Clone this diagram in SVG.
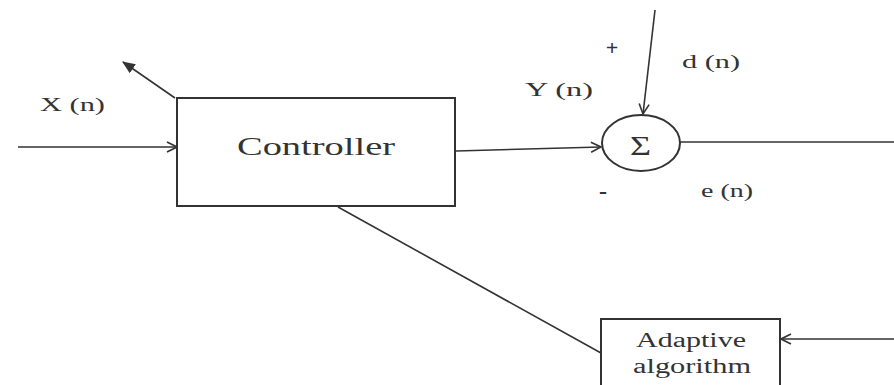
<svg xmlns="http://www.w3.org/2000/svg" width="894" height="385" viewBox="0 0 894 385">
<defs>
<style>
.box{fill:#fff;stroke:#333;stroke-width:2}
.ln{fill:none;stroke:#333;stroke-width:1.6}
.t{font-family:'Liberation Serif','DejaVu Serif','Times New Roman',serif;fill:#333}
</style>
<marker id="ah" viewBox="0 0 12 12" refX="11" refY="6" markerWidth="12" markerHeight="12" markerUnits="userSpaceOnUse" orient="auto">
<path d="M1,1 L11,6 L1,11" fill="none" stroke="#333" stroke-width="1.6"/>
</marker>
<marker id="ahf" viewBox="0 0 12 12" refX="11" refY="6" markerWidth="13" markerHeight="13" markerUnits="userSpaceOnUse" orient="auto">
<path d="M0,1 L12,6 L0,11 Z" fill="#333"/>
</marker>
</defs>
<rect width="894" height="385" fill="#fff"/>
<g id="connectors">
<line class="ln" x1="18" y1="147" x2="177" y2="147" marker-end="url(#ah)"/>
<line class="ln" x1="175" y1="98" x2="123" y2="62" marker-end="url(#ahf)"/>
<line class="ln" x1="456" y1="151" x2="601" y2="147" marker-end="url(#ah)"/>
<line class="ln" x1="655" y1="10" x2="643" y2="114" marker-end="url(#ah)"/>
<line class="ln" x1="680" y1="142" x2="894" y2="142"/>
<line class="ln" x1="338" y1="207" x2="601" y2="353"/>
<line class="ln" x1="894" y1="339" x2="781" y2="339" marker-end="url(#ah)"/>
</g>
<g id="controller">
<rect class="box" x="177" y="98" width="278" height="108"/>
<text class="t" x="237" y="155" font-size="25" textLength="158" lengthAdjust="spacingAndGlyphs">Controller</text>
</g>
<g id="sum">
<ellipse class="box" cx="641" cy="143" rx="39" ry="28"/>
<text class="t" x="630" y="155" font-size="28" textLength="21" lengthAdjust="spacingAndGlyphs">Σ</text>
</g>
<g id="adaptive">
<rect class="box" x="601" y="319" width="179" height="70"/>
<text class="t" x="636" y="347" font-size="20" textLength="110" lengthAdjust="spacingAndGlyphs">Adaptive</text>
<text class="t" x="633" y="373" font-size="20" textLength="118" lengthAdjust="spacingAndGlyphs">algorithm</text>
</g>
<g id="labels">
<text class="t" x="40" y="111" font-size="18" textLength="65" lengthAdjust="spacingAndGlyphs">X (n)</text>
<text class="t" x="525" y="96" font-size="18" textLength="68" lengthAdjust="spacingAndGlyphs">Y (n)</text>
<text class="t" x="682" y="68" font-size="18" textLength="58" lengthAdjust="spacingAndGlyphs">d (n)</text>
<text class="t" x="701" y="197" font-size="18" textLength="52" lengthAdjust="spacingAndGlyphs">e (n)</text>
<text class="t" x="612" y="55" font-size="22" font-weight="bold" text-anchor="middle">+</text>
<text class="t" x="603" y="199" font-size="24" font-weight="bold" text-anchor="middle">-</text>
</g>
</svg>
